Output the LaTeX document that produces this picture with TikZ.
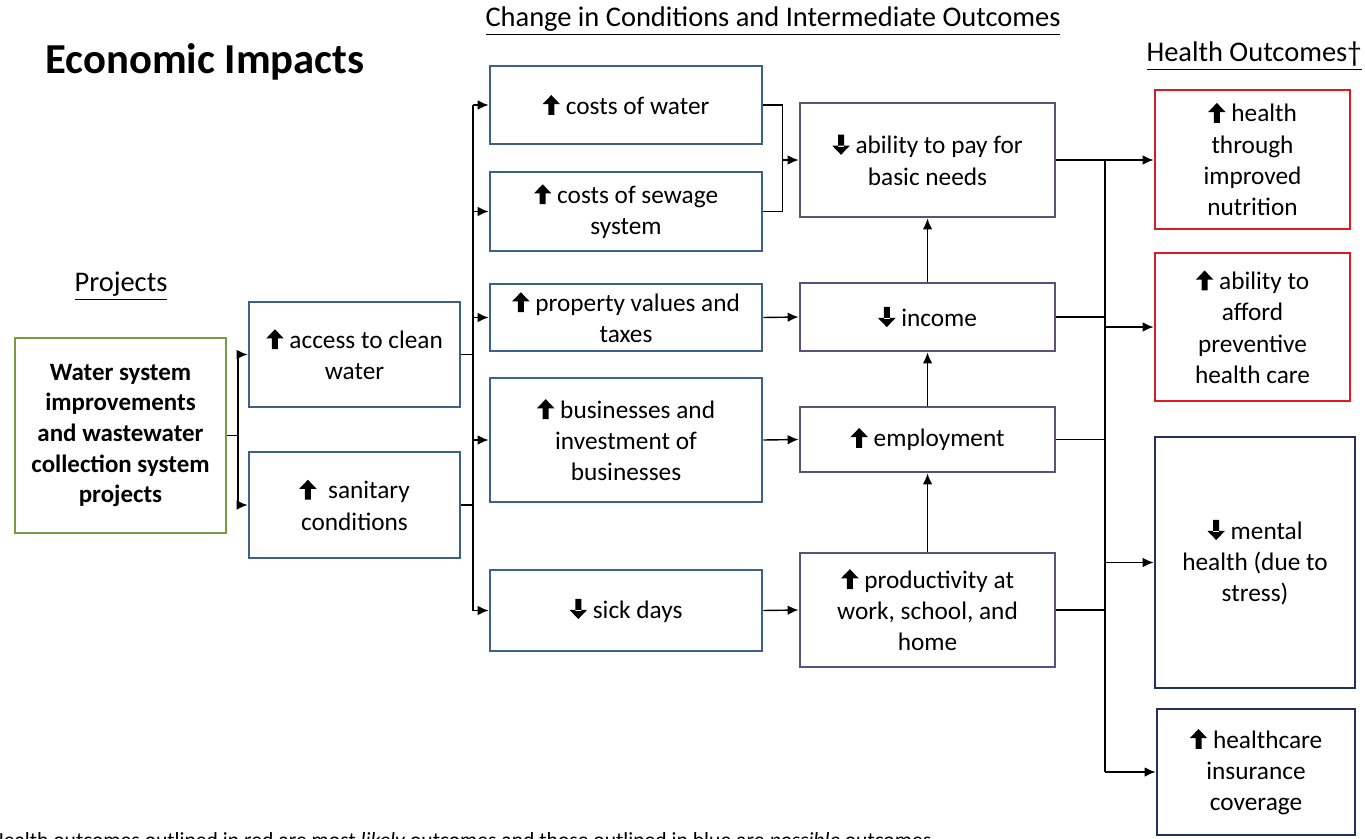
\documentclass[tikz,border=0pt]{standalone}
\usepackage{fontspec}
\setmainfont{Carlito}
\usepackage{xcolor}
\usepackage{tikz}
\usetikzlibrary{arrows.meta,calc}

\definecolor{projgreen}{HTML}{7A9A3C}
\definecolor{condblue}{HTML}{3F6189}
\definecolor{midpurple}{HTML}{5E5078}
\definecolor{likelyred}{HTML}{E01B1E}
\definecolor{possnavy}{HTML}{1F3358}

\newcommand{\arrup}{\tikz[baseline=0pt,x=1pt,y=1pt]\fill[black] (-1.7,-0.5) rectangle (1.7,6.5) (-5,5.6) -- (0,10.8) -- (5,5.6) -- cycle;}
\newcommand{\arrdn}{\tikz[baseline=0pt,x=1pt,y=1pt]\fill[black] (-1.7,4) rectangle (1.7,11) (-5,4.7) -- (0,-0.5) -- (5,4.7) -- cycle;}

\begin{document}
\begin{tikzpicture}[x=0.02cm, y=-0.02cm,
    every node/.style={align=center, inner sep=0pt, font=\fontsize{14.4}{17.8}\selectfont},
    projbox/.style={draw=projgreen, line width=1.6pt, minimum width=4.22cm, minimum height=3.9cm, font=\fontsize{14.2}{17.4}\selectfont\bfseries},
    bluebox/.style={draw=condblue, line width=1.6pt, minimum width=5.44cm},
    purplebox/.style={draw=midpurple, line width=1.6pt, minimum width=5.1cm},
    redbox/.style={draw=likelyred, line width=1.6pt, minimum width=3.9cm},
    navybox/.style={draw=possnavy, line width=1.6pt, minimum width=4cm},
    heading/.style={font=\fontsize{16.2}{19}\selectfont},
    link/.style={line width=0.8pt},
    arr/.style={line width=0.8pt, -{Latex[length=2.2mm,width=1.9mm]}}]
    \useasboundingbox (0,0) rectangle (1365,838);

    \node[font=\fontsize{24.3}{28}\selectfont\bfseries] (title) at (205,62) {Economic Impacts};
    \node[heading] (head_change) at (773,21) {\underline{Change in Conditions and Intermediate Outcomes}};
    \node[heading] (head_health) at (1254,56) {\underline{Health Outcomes†}};
    \node[heading] (head_proj) at (121,286) {\underline{Projects}};

    \node[projbox] (proj) at (120.5,435.5) {Water system\\improvements\\and wastewater\\collection system\\projects};

    \node[bluebox, minimum width=4.22cm, minimum height=2.1cm] (access_water) at (354.5,354.5) {\arrup{} access to clean\\water};
    \node[bluebox, minimum width=4.22cm, minimum height=2.12cm] (sanitary) at (354.5,505) {\arrup{}\ \ sanitary\\conditions};

    \node[bluebox, minimum height=1.56cm] (cost_water) at (626,105) {\arrup{} costs of water};
    \node[bluebox, minimum height=1.58cm] (cost_sewage) at (626,211.5) {\arrup{} costs of sewage\\system};
    \node[bluebox, minimum height=1.34cm] (property) at (626,317.5) {\arrup{} property values and\\taxes};
    \node[bluebox, minimum height=2.48cm] (business) at (626,440) {\arrup{} businesses and\\investment of\\businesses};
    \node[bluebox, minimum height=1.62cm] (sick_days) at (626,610.5) {\arrdn{} sick days};

    \node[purplebox, minimum height=2.28cm] (pay_needs) at (927.5,160) {\arrdn{} ability to pay for\\basic needs};
    \node[purplebox, minimum height=1.36cm] (income) at (927.5,317) {\arrdn{} income};
    \node[purplebox, minimum height=1.3cm] (employment) at (927.5,439.5) {\arrup{} employment};
    \node[purplebox, minimum height=2.28cm] (productivity) at (927.5,610) {\arrup{} productivity at\\work, school, and\\home};

    \node[redbox, minimum height=2.78cm] (nutrition) at (1252.5,159.5) {\arrup{} health\\through\\improved\\nutrition};
    \node[redbox, minimum height=2.96cm] (prevent_care) at (1252.5,327) {\arrup{} ability to\\afford\\preventive\\health care};
    \node[navybox, minimum height=5.02cm] (mental) at (1255,562.5) {\arrdn{} mental\\health (due to\\stress)};
    \node[navybox, minimum width=3.96cm, minimum height=2.52cm] (insurance) at (1256,772) {\arrup{} healthcare\\insurance\\coverage};

    \node[anchor=base west, font=\fontsize{12.3}{14}\selectfont] (note) at (-10,847) {Health outcomes outlined in red are most \textit{likely} outcomes and those outlined in blue are \textit{possible} outcomes.};

    \coordinate (split_proj) at (238,0);
    \coordinate (split_cond) at (473,0);
    \coordinate (split_health) at (1105,0);

    \draw[link] (proj.east) -- (proj.east -| split_proj);
    \draw[link] (split_proj |- access_water.west) -- (split_proj |- sanitary.west);
    \draw[arr] (split_proj |- access_water.west) -- (access_water.west);
    \draw[arr] (split_proj |- sanitary.west) -- (sanitary.west);

    \draw[link] (access_water.east) -- (access_water.east -| split_cond);
    \draw[link] (sanitary.east) -- (sanitary.east -| split_cond);
    \draw[link] (split_cond |- cost_water.west) -- (split_cond |- sick_days.west);
    \foreach \n in {cost_water,cost_sewage,property,business,sick_days}
        \draw[arr] (split_cond |- \n.west) -- (\n.west);

    \draw[arr] (cost_water.east) -- ++(19,0) |- (pay_needs.west);
    \draw[link] (cost_sewage.east) -| ($(cost_water.east)+(19,0)$);
    \draw[arr] (property.east) -- (income.west);
    \draw[arr] (business.east) -- (employment.west);
    \draw[arr] (sick_days.east) -- (productivity.west);

    \draw[arr] (income.north) -- (pay_needs.south);
    \draw[arr] (employment.north) -- (income.south);
    \draw[arr] (productivity.north) -- (employment.south);

    \draw[arr] (pay_needs.east) -- (pay_needs.east -| nutrition.west);
    \draw[link] (split_health |- pay_needs.east) -- (split_health |- insurance.west);
    \foreach \n in {income,employment,productivity}
        \draw[link] (\n.east) -- (\n.east -| split_health);
    \foreach \n in {prevent_care,mental,insurance}
        \draw[arr] (split_health |- \n.west) -- (\n.west);
\end{tikzpicture}
\end{document}
